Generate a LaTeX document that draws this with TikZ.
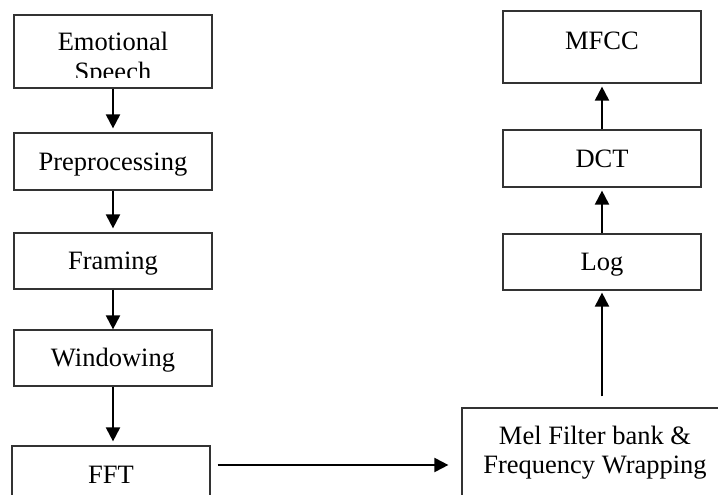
\documentclass[tikz,border=0pt]{standalone}
\usepackage{fontspec}
\setmainfont{Liberation Serif}
\usetikzlibrary{arrows.meta}
\begin{document}
\begin{tikzpicture}[x=1pt,y=-1pt,
  box/.style={draw=black!80,line width=1.2pt,rectangle,minimum width=198pt,inner sep=0pt,
    text height=17.6pt,text depth=0pt,font=\fontsize{26.5}{30}\selectfont},
  txt/.style={inner sep=0pt,anchor=base,font=\fontsize{26.5}{30}\selectfont},
  arr/.style={line width=2pt,-{Triangle[length=14pt,width=14pt]}}]
\clip (0,0) rectangle (718,495);
\fill[white] (0,0) rectangle (718,495);
% left column
\node[box,minimum height=73pt] (es) at (113,51.5) {};
\begin{scope}
  \clip (14,15) rectangle (212,78);
  \node[txt] (est1) at (113,51) {Emotional};
  \node[txt] (est2) at (113,81) {Speech};
\end{scope}
\node[box,minimum height=57pt] (pre) at (113,161.5) {Preprocessing};
\node[box,minimum height=56pt] (fr) at (113,261) {Framing};
\node[box,minimum height=56pt] (win) at (113,358) {Windowing};
\node[box,minimum height=57pt] (fft) at (111,474.5) {FFT};
% right column
\node[box,minimum width=266pt,minimum height=100pt] (mel) at (595,458) {};
\node[txt] (melt1) at (595,444) {Mel Filter bank \&};
\node[txt] (melt2) at (595,473) {Frequency Wrapping};
\node[box,minimum height=56pt] (log) at (602,262) {Log};
\node[box,minimum height=57pt] (dct) at (602,158.5) {DCT};
\node[box,minimum height=72pt] (mfcc) at (602,47) {};
\node[txt] (mfcct) at (602,50) {MFCC};
% connectors
\draw[arr,shorten >=4pt] (es.south) -- (es.south |- pre.north);
\draw[arr,shorten >=4pt] (pre.south) -- (pre.south |- fr.north);
\draw[arr] (fr.south) -- (fr.south |- win.north);
\draw[arr,shorten >=4pt] (win.south) -- (win.south |- fft.north);
\coordinate (fa) at ([yshift=9.5pt]fft.east);
\draw[arr,shorten <=7pt,shorten >=13pt] (fa) -- (fa -| mel.west);
\draw[arr,shorten <=11pt,shorten >=2pt] (log.south |- mel.north) -- (log.south);
\draw[arr,shorten >=3pt] (log.north) -- (dct.south);
\draw[arr,shorten >=3pt] (dct.north) -- (mfcc.south);
\end{tikzpicture}
\end{document}
